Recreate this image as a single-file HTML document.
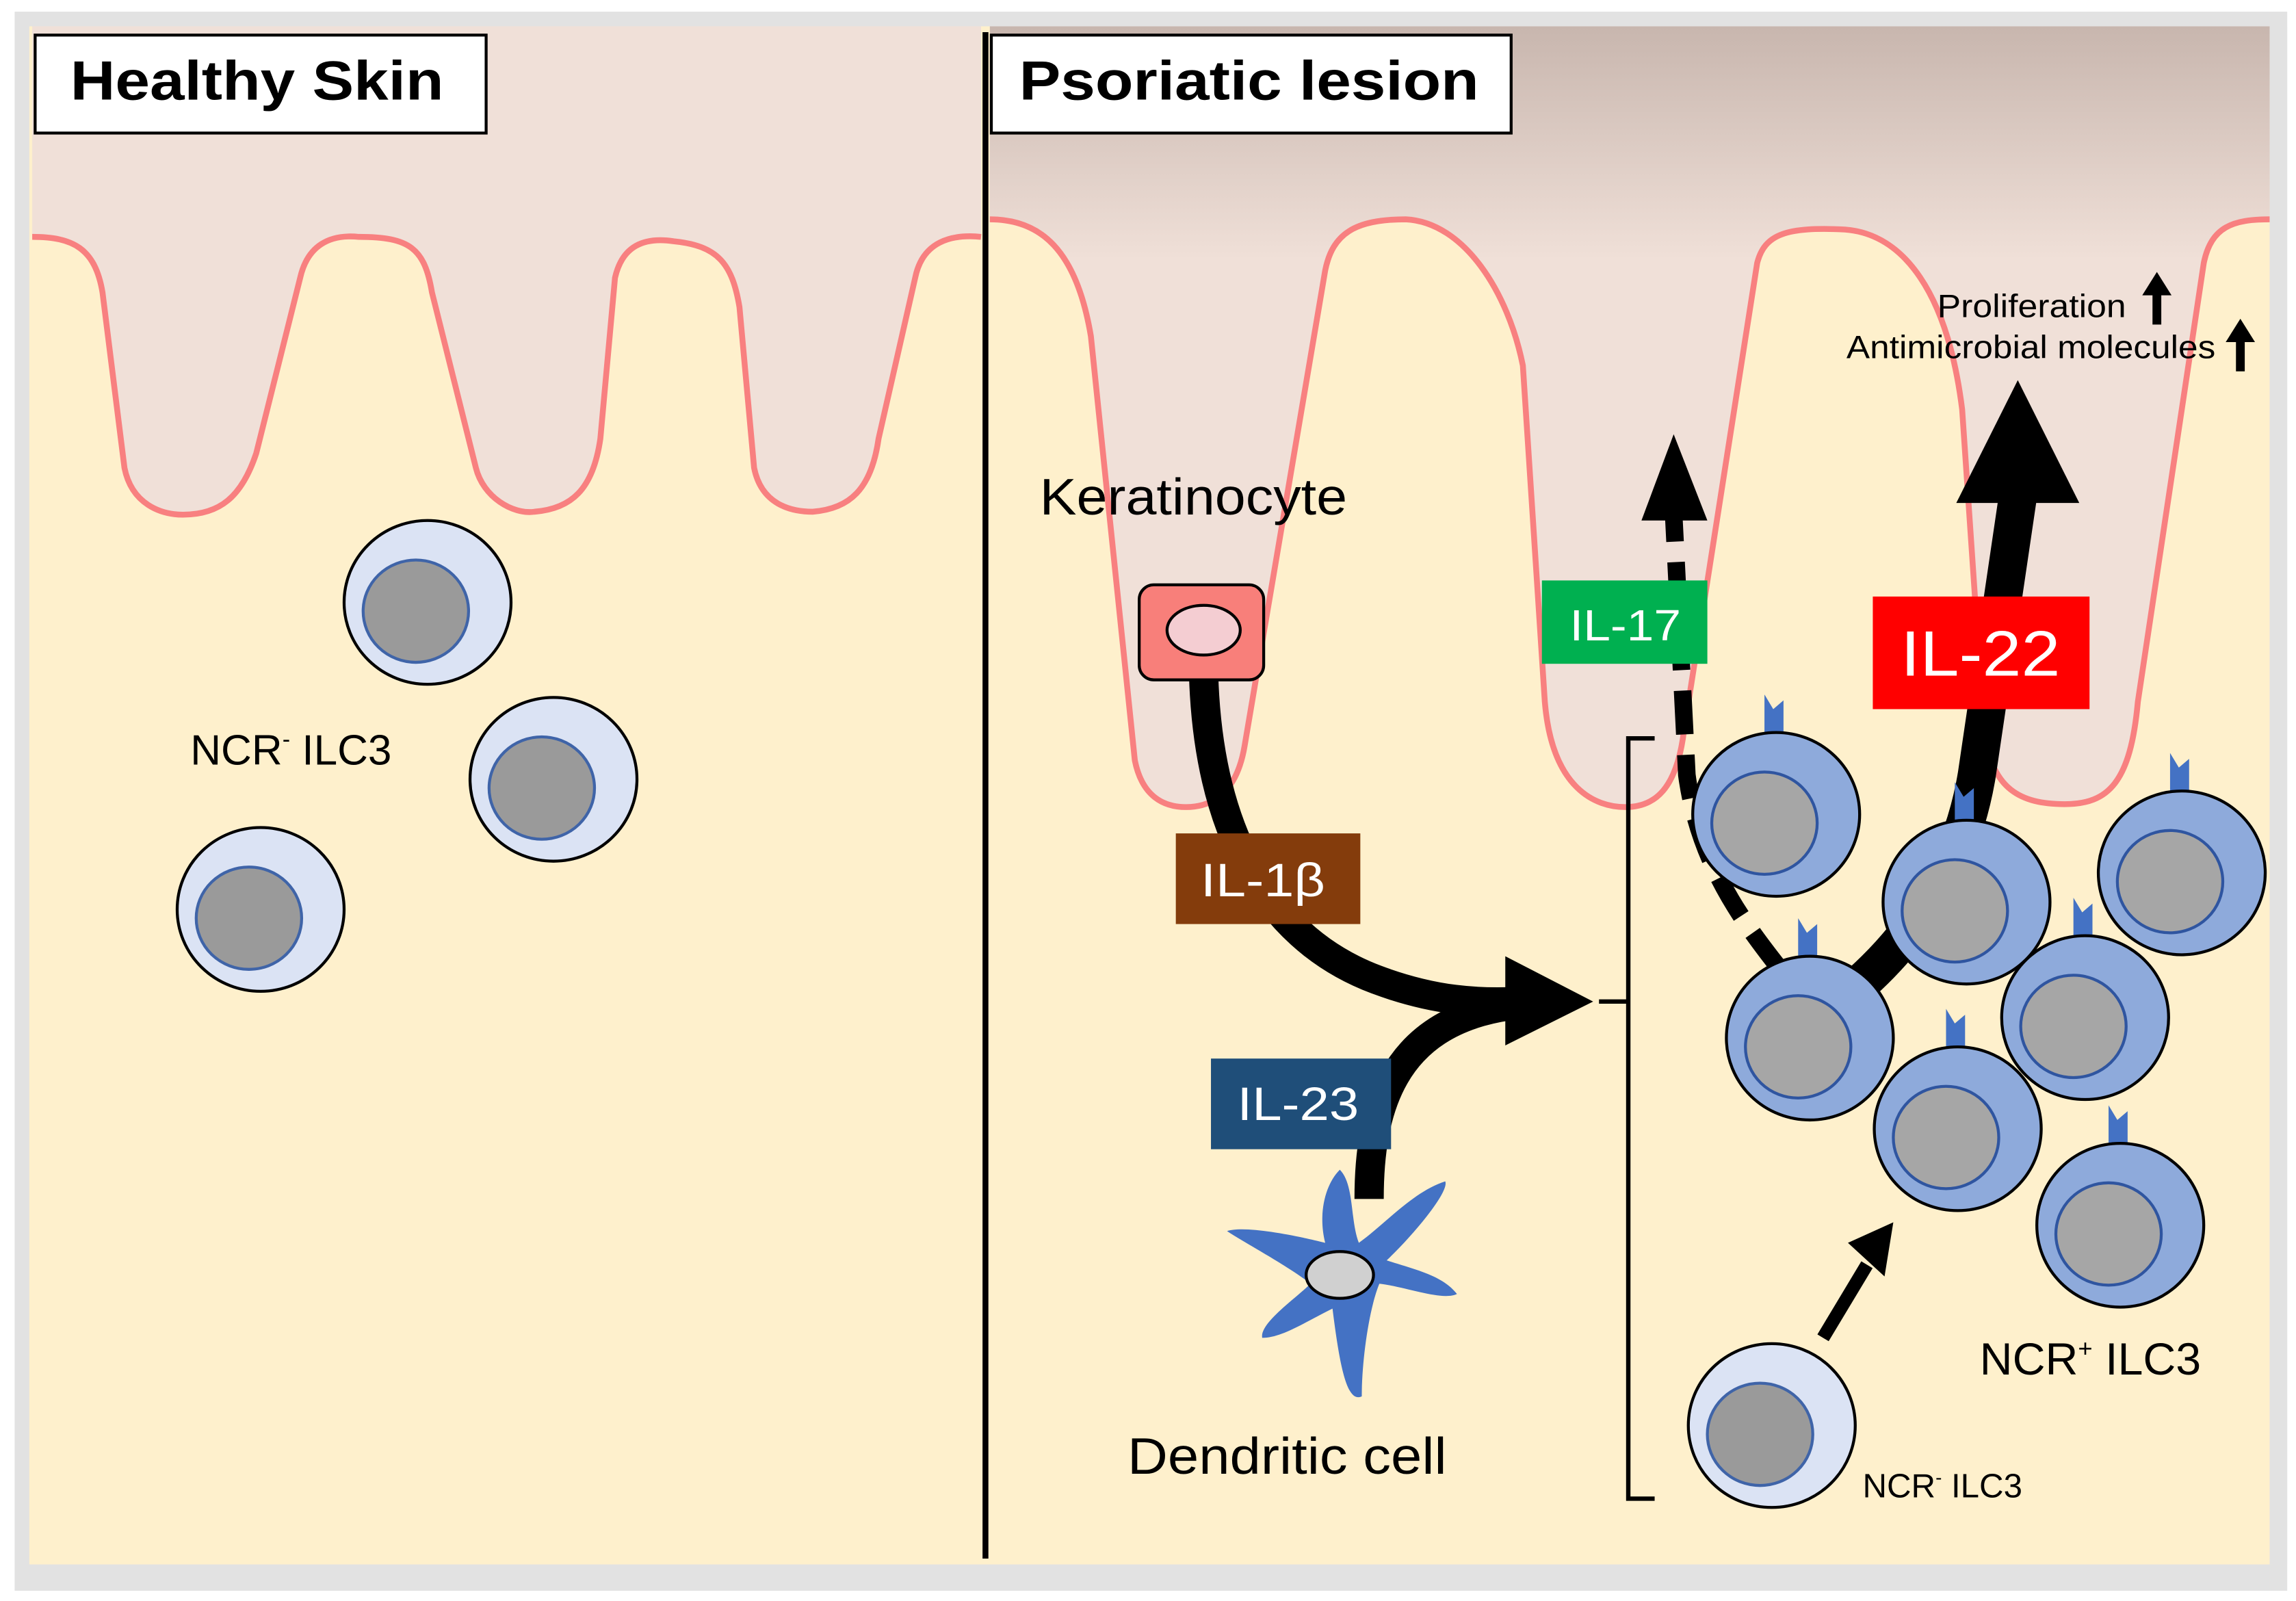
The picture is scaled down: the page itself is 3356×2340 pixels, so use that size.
<!DOCTYPE html>
<html><head><meta charset="utf-8"><style>
html,body{margin:0;padding:0;background:#fff;}
svg{display:block;}
text{font-family:"Liberation Sans",sans-serif;}
</style></head><body>
<svg width="3356" height="2340" viewBox="0 0 1568 1095" preserveAspectRatio="none" xmlns="http://www.w3.org/2000/svg">
<defs>
<linearGradient id="tg" x1="0" y1="0" x2="0" y2="1">
<stop offset="0" stop-color="#c8b6ae"/><stop offset="0.3" stop-color="#f0e0d8"/><stop offset="1" stop-color="#f0e0d8"/>
</linearGradient>
<g id="ncrm"><ellipse cx="0" cy="0" rx="57" ry="56" fill="#dbe3f4" stroke="#000" stroke-width="2"/><ellipse cx="-8" cy="6" rx="36" ry="35" fill="#9a9a9a" stroke="#3f64a8" stroke-width="2"/></g>
<g id="ncrp"><path d="M-8,-52 L-8,-82 L-2,-72 L5,-78 L5,-52 Z" fill="#4472c4"/><ellipse cx="0" cy="0" rx="57" ry="56" fill="#8eaadb" stroke="#000" stroke-width="2"/><ellipse cx="-8" cy="6" rx="36" ry="35" fill="#a6a6a6" stroke="#2f55a0" stroke-width="2"/></g>
</defs>
<rect x="0" y="0" width="1568" height="1095" fill="#fff"/>
<rect x="10" y="8" width="1552" height="1080" fill="#e2e2e2"/>
<rect x="20" y="18" width="1532" height="1052" fill="#fef0cc"/>
<path d="M22,18 L670,18 L670,162 C650,160 630,165 625,190 L600,300 C595,335 580,348 555,350 C540,350 520,345 515,320 L505,210 C500,180 490,168 460,165 C440,162 425,168 420,190 L410,300 C405,335 390,348 365,350 C350,352 330,340 325,320 L295,200 C290,170 280,162 245,162 C225,160 210,168 205,190 L175,310 C165,340 150,352 125,352 C110,352 90,345 85,320 L70,200 C65,170 50,162 22,162 Z" fill="#f0e0d8" stroke="none"/>
<path d="M22,162 C50,162 65,170 70,200 L85,320 C90,345 110,352 125,352 C150,352 165,340 175,310 L205,190 C210,168 225,160 245,162 C280,162 290,170 295,200 L325,320 C330,340 350,352 365,350 C390,348 405,335 410,300 L420,190 C425,168 440,162 460,165 C490,168 500,180 505,210 L515,320 C520,345 540,350 555,350 C580,348 595,335 600,300 L625,190 C630,165 650,160 670,162" fill="none" stroke="#f88080" stroke-width="4"/>
<path d="M676,18 L1550,18 L1550,150 C1525,150 1510,155 1505,180 L1460,480 C1455,535 1440,550 1410,550 C1380,550 1360,540 1355,500 L1340,280 C1330,200 1300,160 1260,157 C1220,155 1205,160 1200,180 L1150,500 C1145,540 1130,552 1110,552 C1090,552 1060,540 1055,480 L1040,250 C1030,200 1000,152 960,150 C925,150 910,160 905,185 L850,510 C845,540 830,552 810,552 C795,552 780,545 775,520 L745,230 C735,170 710,150 676,150 Z" fill="url(#tg)"/>
<path d="M676,150 C710,150 735,170 745,230 L775,520 C780,545 795,552 810,552 C830,552 845,540 850,510 L905,185 C910,160 925,150 960,150 C1000,152 1030,200 1040,250 L1055,480 C1060,540 1090,552 1110,552 C1130,552 1145,540 1150,500 L1200,180 C1205,160 1220,155 1260,157 C1300,160 1330,200 1340,280 L1355,500 C1360,540 1380,550 1410,550 C1440,550 1455,535 1460,480 L1505,180 C1510,155 1525,150 1550,150" fill="none" stroke="#f88080" stroke-width="4"/>
<rect x="1550" y="18" width="12" height="1052" fill="#e2e2e2"/>
<line x1="673" y1="22" x2="673" y2="1066" stroke="#000" stroke-width="4"/>
<rect x="24" y="24" width="308" height="67" fill="#fff" stroke="#000" stroke-width="2"/>
<text x="48" y="68" font-size="38" font-weight="bold" textLength="255" lengthAdjust="spacingAndGlyphs">Healthy Skin</text>
<rect x="677" y="24" width="355" height="67" fill="#fff" stroke="#000" stroke-width="2"/>
<text x="696" y="68" font-size="38" font-weight="bold" textLength="314" lengthAdjust="spacingAndGlyphs">Psoriatic lesion</text>
<use href="#ncrm" x="292" y="412"/>
<use href="#ncrm" x="378" y="533"/>
<use href="#ncrm" x="178" y="622"/>
<text x="130" y="523" font-size="29">NCR<tspan font-size="16" dy="-12">-</tspan><tspan dy="12"> ILC3</tspan></text>
<text x="710" y="352" font-size="35" textLength="210" lengthAdjust="spacingAndGlyphs">Keratinocyte</text>
<path d="M822,462 C825,560 860,640 940,670 C980,685 1010,686 1035,685" fill="none" stroke="#000" stroke-width="20"/>
<path d="M935,820 C935,760 950,700 1030,688" fill="none" stroke="#000" stroke-width="20"/>
<polygon points="1028,654 1028,715 1088,685" fill="#000"/>
<rect x="778" y="400" width="85" height="65" rx="10" fill="#f87f7a" stroke="#000" stroke-width="2"/>
<ellipse cx="822" cy="431" rx="25" ry="17" fill="#f4cdd2" stroke="#000" stroke-width="2"/>
<rect x="803" y="570" width="126" height="62" fill="#843c0c"/>
<text x="820" y="613" font-size="32" fill="#fff" textLength="85" lengthAdjust="spacingAndGlyphs">IL-1β</text>
<rect x="827" y="724" width="123" height="62" fill="#1f4e79"/>
<text x="845" y="766" font-size="32" fill="#fff" textLength="83" lengthAdjust="spacingAndGlyphs">IL-23</text>
<path d="M905,850 C900,830 905,810 915,800 C925,810 922,835 928,850 C945,838 965,815 987,808 C990,815 965,845 947,862 C965,868 985,872 995,885 C985,890 960,880 942,878 C935,895 930,930 930,955 C920,960 915,935 910,895 C890,905 875,915 862,915 C860,905 885,888 895,878 C880,866 850,850 838,842 C850,838 885,845 905,850 Z" fill="#4472c4"/>
<ellipse cx="915" cy="872" rx="23" ry="16" fill="#d0d0d0" stroke="#000" stroke-width="2"/>
<text x="770" y="1008" font-size="35" textLength="218" lengthAdjust="spacingAndGlyphs">Dendritic cell</text>
<path d="M1130,505 L1112,505 L1112,1025 L1130,1025 M1112,685 L1092,685" fill="none" stroke="#000" stroke-width="3"/>
<path d="M1215,662 C1190,630 1160,590 1152,530 L1143,352" fill="none" stroke="#000" stroke-width="12" stroke-dasharray="30,14"/>
<polygon points="1121,356 1166,356 1143,297" fill="#000"/>
<path d="M1262,680 C1310,640 1340,590 1350,530 L1378,340" fill="none" stroke="#000" stroke-width="26"/>
<polygon points="1336,344 1420,344 1378,260" fill="#000"/>
<rect x="1053" y="397" width="113" height="57" fill="#00b050"/>
<text x="1072" y="438" font-size="30" fill="#fff" textLength="76" lengthAdjust="spacingAndGlyphs">IL-17</text>
<rect x="1279" y="408" width="148" height="77" fill="#ff0000"/>
<text x="1298" y="462" font-size="44" fill="#fff" textLength="109" lengthAdjust="spacingAndGlyphs">IL-22</text>
<text x="1323" y="217" font-size="22" textLength="129" lengthAdjust="spacingAndGlyphs">Proliferation</text>
<text x="1261" y="245" font-size="22" textLength="252" lengthAdjust="spacingAndGlyphs">Antimicrobial molecules</text>
<path d="M1473,222 L1473,200" stroke="#000" stroke-width="6"/><polygon points="1463,202 1483,202 1473,186" fill="#000"/>
<path d="M1530,254 L1530,232" stroke="#000" stroke-width="6"/><polygon points="1520,234 1540,234 1530,218" fill="#000"/>
<use href="#ncrp" x="1213" y="557"/>
<use href="#ncrp" x="1490" y="597"/>
<use href="#ncrp" x="1343" y="617"/>
<use href="#ncrp" x="1236" y="710"/>
<use href="#ncrp" x="1424" y="696"/>
<use href="#ncrp" x="1337" y="772"/>
<use href="#ncrp" x="1448" y="838"/>
<text x="1352" y="940" font-size="31">NCR<tspan font-size="17" dy="-12">+</tspan><tspan dy="12"> ILC3</tspan></text>
<path d="M1245,915 L1275,865" stroke="#000" stroke-width="9"/>
<polygon points="1262,850 1293,836 1287,873" fill="#000"/>
<use href="#ncrm" x="1210" y="975"/>
<text x="1272" y="1024" font-size="23">NCR<tspan font-size="13" dy="-9">-</tspan><tspan dy="9"> ILC3</tspan></text>
</svg>
</body></html>
